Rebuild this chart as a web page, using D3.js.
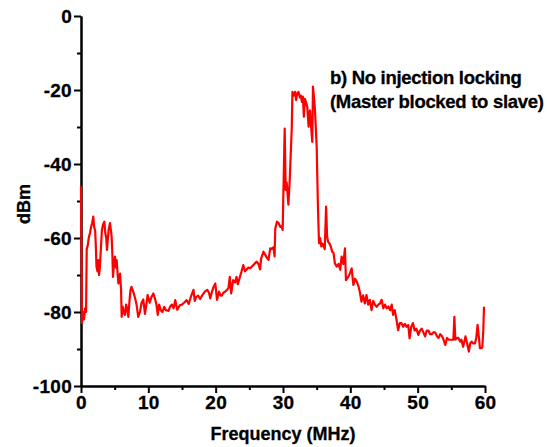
<!DOCTYPE html>
<html>
  <head>
    <meta charset="utf-8">
    <style type="text/css">
      body { margin: 0; background: white; }
      svg { font-family: "Liberation Sans", Arial, sans-serif; font-weight: bold; }
      .axis path, .axis line { stroke: black; stroke-width: 2px; }
      .axis text { font-size: 19px; font-weight: bold; fill: black; letter-spacing: 0.3px; }
      text { stroke: black; stroke-width: 0.3px; }
      .trace { stroke: #ff0000; stroke-width: 2.2px; fill: none; stroke-linejoin: round; }
    </style>
  </head>
  <body>
    <script src="https://cdn.jsdelivr.net/npm/d3@7"></script>
    <svg id="chart"></svg>
    <script type="text/javascript">
var freq = [0, 0.05, 0.15, 0.3, 0.45, 0.6, 0.75, 0.85, 1.0, 1.15, 1.34, 1.5, 1.65, 1.83, 1.95, 2.1, 2.2, 2.3, 2.45, 2.55,
  2.67, 2.8, 2.97, 3.1, 3.25, 3.47, 3.6, 3.75, 3.86, 4.0, 4.1, 4.3, 4.45, 4.55, 4.65, 4.75, 4.9, 5.05, 5.2, 5.3,
  5.45, 5.55, 5.8, 5.95, 6.04, 6.2, 6.35, 6.53, 6.7, 6.85, 7.03, 7.2, 7.35, 7.5, 7.75, 8.0, 8.25, 8.5, 8.75, 9.0,
  9.25, 9.5, 9.7, 9.9, 10.2, 10.45, 10.75, 11.0, 11.2, 11.4, 11.6, 11.85, 12.1, 12.35, 12.6, 13.0, 13.25, 13.5, 13.75, 14.0,
  14.3, 14.7, 15.0, 15.3, 15.7, 16.0, 16.3, 16.7, 16.9, 17.1, 17.4, 17.7, 17.9, 18.2, 18.4, 18.75, 19.0, 19.2, 19.45, 19.7,
  19.95, 20.2, 20.5, 20.7, 20.9, 21.15, 21.4, 21.7, 21.9, 22.1, 22.3, 22.6, 22.9, 23.1, 23.3, 23.6, 23.85, 24.1, 24.35, 24.6,
  24.85, 25.1, 25.35, 25.6, 25.85, 26.1, 26.35, 26.6, 26.75, 27.1, 27.35, 27.6, 27.85, 28.1, 28.35, 28.6, 28.75, 28.85, 29.1, 29.35,
  29.6, 29.8, 29.95, 30.25, 30.4, 30.55, 30.8, 31.0, 31.2, 31.3, 31.4, 31.6, 31.8, 31.95, 32.1, 32.3, 32.5, 32.65, 32.8, 32.95,
  33.1, 33.25, 33.45, 33.6, 33.8, 34.0, 34.2, 34.35, 34.45, 34.6, 34.75, 35.0, 35.2, 35.35, 35.5, 35.7, 35.85, 36.0, 36.2, 36.4,
  36.55, 36.7, 36.9, 37.1, 37.3, 37.5, 37.7, 37.97, 38.25, 38.5, 38.7, 38.96, 39.2, 39.35, 39.7, 39.95, 40.2, 40.45, 40.7, 40.95,
  41.2, 41.4, 41.65, 41.9, 42.15, 42.4, 42.65, 42.9, 43.15, 43.4, 43.65, 43.9, 44.15, 44.4, 44.65, 44.9, 45.15, 45.4, 45.65, 45.9,
  46.15, 46.35, 46.6, 46.85, 47.1, 47.35, 47.6, 47.85, 48.1, 48.35, 48.6, 48.8, 49.05, 49.3, 49.55, 49.8, 50.1, 50.35, 50.6, 50.85,
  51.1, 51.35, 51.6, 51.85, 52.1, 52.35, 52.6, 52.85, 53.1, 53.35, 53.6, 53.85, 54.1, 54.35, 54.6, 54.8, 55.1, 55.3, 55.45, 55.6,
  55.85, 56.05, 56.3, 56.5, 56.75, 57.1, 57.35, 57.6, 57.8, 58.0, 58.25, 58.5, 58.7, 58.9, 59.1, 59.25, 59.45, 59.6, 59.75, 59.85];

var power = [-46, -60, -83, -80, -82, -79, -80, -63, -62, -60, -58.6, -57, -56, -54.2, -57, -58, -62, -67.8, -69, -66,
  -70, -68, -62.3, -58, -56.5, -55.6, -58.6, -60, -63.2, -60, -57.8, -56, -58, -59.6, -64, -70.5, -67, -65, -68, -66,
  -70, -72.3, -69.6, -74, -81.3, -78.6, -80, -80.8, -78, -79, -81.3, -77, -74, -73.2, -74.5, -76, -78, -81.3, -80, -77.5,
  -76.6, -80.5, -78, -75.4, -77.5, -76, -75, -76.5, -78, -80.8, -78, -79.5, -80, -78.6, -79.5, -79.7, -78.5, -78, -79, -76.8,
  -79.4, -78.1, -78, -77.5, -76.8, -77.8, -76, -74, -77, -76, -75.6, -76.5, -75.8, -75, -74.5, -74, -74.8, -76.3, -74.5, -73.2,
  -72.3, -76.7, -74.5, -75.5, -75.6, -74.8, -74.5, -74, -73.5, -70.5, -75, -71.4, -72, -70.5, -72.5, -70.5, -69, -67.3, -69, -68.5,
  -68, -68.2, -67.8, -67.3, -66.8, -66.4, -67, -68.5, -65.6, -63.7, -64.5, -65.3, -65.9, -62.8, -63, -62.5, -65, -57.5, -55.6, -56,
  -57, -56.8, -57.8, -30.4, -47, -45, -51, -44.3, -35, -30.3, -20.5, -21.5, -20.5, -22.7, -21, -20.5, -22, -21.5, -23.2, -21.8,
  -27.2, -22.4, -23.5, -24.5, -29.9, -25.5, -30.5, -34, -19.1, -22, -25.4, -35.3, -52.4, -61.4, -60, -62.3, -61.5, -62, -63, -51.5,
  -59.6, -61, -61.5, -62.3, -63.7, -64, -66.8, -67.7, -67, -68.6, -65, -67, -62.8, -71.4, -70.5, -69.5, -68.2, -72.7, -71, -71.8,
  -73, -74.5, -77.2, -75.5, -77.7, -75.4, -78, -76.7, -79.5, -77, -78, -78.6, -78, -77.7, -76.7, -79, -78, -79, -78.5, -79.5,
  -78, -80.8, -79.5, -82, -84.9, -83, -83, -84, -83.2, -84, -83.5, -87.1, -84, -83, -85, -84.5, -86.2, -85, -84.5, -85.5,
  -86.6, -85, -85, -86, -86, -85.5, -85.5, -86.5, -87, -86, -86.5, -87.5, -88.9, -87, -87.5, -87.5, -87.5, -87.5, -81.3, -87.5,
  -87, -87, -88, -87.5, -89.4, -86.6, -88.5, -90.7, -88.5, -88, -88.5, -88.5, -87, -83.5, -87, -89.8, -89.8, -89.5, -84.9, -78.6];

var xTicks = [0, 10, 20, 30, 40, 50, 60];
var xMinorTicks = [5, 15, 25, 35, 45, 55];
var yTicks = [0, -20, -40, -60, -80, -100];
var yMinorTicks = [-10, -30, -50, -70, -90];
var xTitle = "Frequency (MHz)";
var yTitle = "dBm";
var note = ["b) No injection locking", "(Master blocked to slave)"];

var width = 547;
var height = 447;
var margin = { top: 16, left: 81, right: 62, bottom: 61 };

var svg = d3.select("#chart")
  .attr("width", width)
  .attr("height", height);

var x = d3.scaleLinear().domain([0, 60]).range([margin.left, width - margin.right]);
var y = d3.scaleLinear().domain([-100, 0]).range([height - margin.bottom, margin.top]);

// minor ticks first, no labels
svg.append("g")
  .attr("class", "axis")
  .attr("transform", "translate(0," + y(-100) + ")")
  .call(d3.axisBottom(x).tickValues(xMinorTicks).tickSize(4).tickSizeOuter(0).tickFormat(""));
svg.append("g")
  .attr("class", "axis")
  .attr("transform", "translate(" + x(0) + ",0)")
  .call(d3.axisLeft(y).tickValues(yMinorTicks).tickSize(4).tickSizeOuter(0).tickFormat(""));

var xAxis = svg.append("g")
  .attr("class", "axis")
  .attr("transform", "translate(0," + y(-100) + ")")
  .call(d3.axisBottom(x).tickValues(xTicks).tickSize(7).tickSizeOuter(0).tickPadding(3));

var yAxis = svg.append("g")
  .attr("class", "axis")
  .attr("transform", "translate(" + x(0) + ",0)")
  .call(d3.axisLeft(y).tickValues(yTicks).tickSize(7).tickSizeOuter(0).tickPadding(2)
    .tickFormat(function(d) { return d < 0 ? "-" + Math.abs(d) : d; }));

var points = freq.map(function(f, i) { return { f: f, v: power[i] }; });

var line = d3.line()
  .x(function(d) { return x(d.f); })
  .y(function(d) { return y(d.v); });

svg.append("path")
  .datum(points)
  .attr("class", "trace")
  .attr("d", line);

svg.append("text")
  .attr("x", (x(0) + x(60)) / 2)
  .attr("y", 440)
  .attr("text-anchor", "middle")
  .style("font-size", "18px")
  .text(xTitle);

svg.append("text")
  .attr("transform", "translate(30," + (y(-50) + 3) + ") rotate(-90)")
  .attr("text-anchor", "middle")
  .style("font-size", "18px")
  .text(yTitle);

svg.append("g").selectAll("text").data(note).enter()
  .append("text")
  .attr("x", 330)
  .attr("y", function(d, i) { return 84 + i * 24; })
  .style("font-size", "18.5px")
  .style("letter-spacing", "-0.3px")
  .text(function(d) { return d; });
    </script>
  </body>
</html>
